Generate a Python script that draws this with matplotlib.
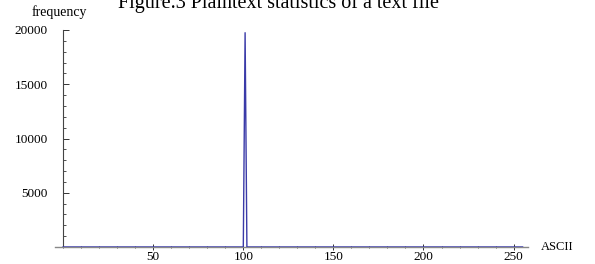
import matplotlib
matplotlib.use("Agg")
import matplotlib.pyplot as plt
import numpy as np
from matplotlib.ticker import MultipleLocator

plt.rcParams['font.family'] = ['Liberation Serif', 'DejaVu Serif']

# --- Data: character frequency per ASCII code ---
ascii_codes = np.arange(0, 256)
frequency = np.zeros(256)
spike_code = 101
spike_value = 19750
frequency[spike_code] = spike_value

title = "Figure.3 Plaintext statistics of a text file"
x_ticks = [50, 100, 150, 200, 250]
y_ticks = [5000, 10000, 15000, 20000]

fig = plt.figure(figsize=(5.95, 2.64), dpi=100)
ax = fig.add_axes([55 / 595, 17 / 264, 473 / 595, 217 / 264])

ax.plot(ascii_codes, frequency, color='#3a3aa8', linewidth=1.0, zorder=3)

ax.set_xlim(-4.5, 258)
ax.set_ylim(0, 20000)

# Mathematica style axes crossing at origin
for side in ['top', 'right']:
    ax.spines[side].set_visible(False)
ax.spines['left'].set_position(('data', 0))
ax.spines['left'].set_color('#444444')
ax.spines['left'].set_linewidth(0.8)
ax.spines['bottom'].set_color('#888888')
ax.spines['bottom'].set_linewidth(1.0)

ax.set_xticks(x_ticks)
ax.set_yticks(y_ticks)
ax.xaxis.set_minor_locator(MultipleLocator(10))
ax.yaxis.set_minor_locator(MultipleLocator(1000))
ax.tick_params(axis='both', which='major', direction='in', length=4, width=0.7,
               color='#333333', labelsize=9.5)
ax.tick_params(axis='both', which='minor', direction='in', length=2, width=0.6,
               color='#333333')
ax.tick_params(axis='y', which='major', pad=11)
ax.tick_params(axis='x', which='both', direction='inout')
ax.tick_params(axis='x', which='major', length=4, pad=1)

fig.text(279 / 595, 1 - 8 / 264, title, ha='center', va='baseline', fontsize=14.5)
fig.text(32 / 595, 1 - 16 / 264, "frequency", ha='left', va='baseline', fontsize=10)
fig.text(541 / 595, 1 - 250 / 264, "ASCII", ha='left', va='baseline', fontsize=9)

fig.savefig("out.png", dpi=100)
